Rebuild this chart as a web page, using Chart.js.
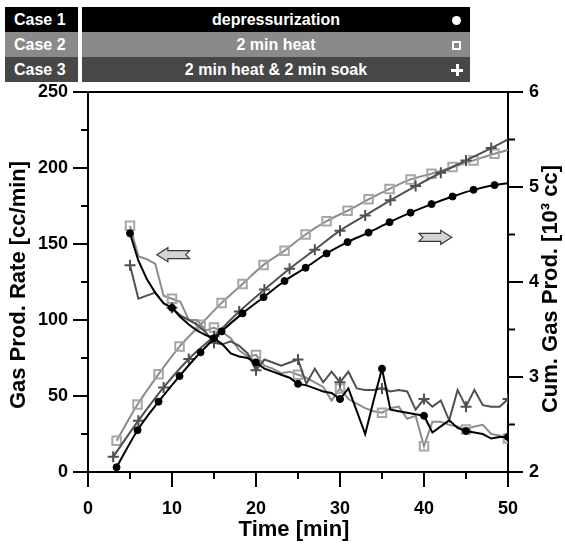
<!DOCTYPE html>
<html>
<head>
<meta charset="utf-8">
<script src="https://cdn.jsdelivr.net/npm/chart.js@4/dist/chart.umd.min.js"></script>
<style>
  body { margin: 0; background: #fff; font-family: 'Liberation Sans', Arial, sans-serif; }
  #wrap { position: relative; width: 565px; height: 544px; }
  #legend { position: absolute; left: 5px; top: 7px; width: 465px; }
  .row { display: flex; height: 25px; line-height: 25px; color: #fff; font-weight: bold; font-size: 16px; }
  .name { width: 73px; padding-left: 9px; box-sizing: border-box; }
  .note { margin-left: 4px; flex: 1; text-align: center; position: relative; }
  .r0 > div { background: #000; }
  .r1 > div { background: #8a8a8a; }
  .r2 > div { background: #474747; }
  .sym { position: absolute; top: 50%; }
  .sym.dot { right: 9px; width: 9px; height: 9px; margin-top: -4px; border-radius: 50%; background: #fff; }
  .sym.box { right: 9px; width: 5px; height: 5px; margin-top: -4px; border: 2px solid #fff; }
  .sym.plus { right: 7px; width: 12px; height: 12px; margin-top: -6px; }
  .sym.plus::before, .sym.plus::after { content: ''; position: absolute; background: #fff; }
  .sym.plus::before { left: 0; top: 5px; width: 12px; height: 3px; }
  .sym.plus::after { left: 5px; top: 0; width: 3px; height: 12px; }
  canvas { position: absolute; left: 0; top: 0; }
</style>
</head>
<body>
<div id="wrap">
  <canvas id="chart" width="565" height="544"></canvas>
  <div id="legend"></div>
</div>
<script>
// rate data, one point per minute
const rateTime = [5, 6, 7, 8, 9, 10, 11, 12, 13, 14, 15, 16, 17, 18, 19, 20, 21, 22, 23, 24, 25, 26, 27, 28, 29,
  30, 31, 32, 33, 34, 35, 36, 37, 38, 39, 40, 41, 42, 43, 44, 45, 46, 47, 48, 49, 50];
const rate1 = [157, 139, 127, 118, 111, 108, 102, 97, 93, 90, 88, 84, 78, 76, 75, 72, 68, 66, 64, 62, 58, 57, 55, 53, 52,
  48, 55, 40, 25, 47, 68, 41, 40, 39, 38, 37, 26, 30, 34, 29, 27, 26, 25, 22, 23, 23];
const rate2 = [162, 142, 140, 137, 116, 114, 112, 100, 100, 93, 95, 92, 88, 80, 76, 77, 70, 68, 65, 66, 64, 62, 59, 56, 47,
  55, 48, 45, 42, 40, 39, 42, 43, 35, 37, 17, 33, 33, 31, 30, 28, 30, 31, 25, 24, 22];
const rate3 = [136, 114, 116, 118, 111, 108, 103, 100, 97, 92, 85, 84, 86, 83, 78, 67, 74, 72, 70, 72, 74, 58, 68, 59, 66,
  59, 66, 55, 54, 54, 55, 53, 54, 53, 41, 48, 43, 47, 34, 54, 43, 54, 44, 43, 43, 48];

// cumulative production [10^3 cc]
const cumTime12 = [3.4, 5.9, 8.4, 10.9, 13.4, 15.9, 18.4, 20.9, 23.4, 25.9, 28.4, 30.9, 33.4, 35.9, 38.4, 40.9, 43.4, 45.9, 48.4, 50];
const cum1 = [2.05, 2.44, 2.74, 3.01, 3.26, 3.48, 3.67, 3.84, 4.01, 4.15, 4.30, 4.42, 4.52, 4.63, 4.73, 4.82, 4.90, 4.97, 5.02, 5.04];
const cum2 = [2.33, 2.71, 3.03, 3.32, 3.55, 3.78, 3.98, 4.18, 4.33, 4.50, 4.64, 4.75, 4.87, 4.98, 5.08, 5.14, 5.21, 5.28, 5.35, 5.39];
const cumTime3 = [3, 6, 9, 12, 15, 18, 21, 24, 27, 30, 33, 36, 39, 42, 45, 48, 50];
const cum3 = [2.16, 2.54, 2.89, 3.19, 3.43, 3.69, 3.92, 4.14, 4.34, 4.54, 4.70, 4.86, 5.01, 5.15, 5.28, 5.41, 5.50];

const timeTicks = [0, 5, 10, 15, 20, 25, 30, 35, 40, 45, 50];
const rateTicks = [0, 25, 50, 75, 100, 125, 150, 175, 200, 225, 250];
const cumTicks = [2, 2.5, 3, 3.5, 4, 4.5, 5, 5.5, 6];

const caseLabels = ['Case 1', 'Case 2', 'Case 3'];
const caseNotes = ['depressurization', '2 min heat', '2 min heat & 2 min soak'];
const caseSymbols = ['dot', 'box', 'plus'];

const legend = document.getElementById('legend');
caseLabels.forEach((label, i) => {
  const row = document.createElement('div');
  row.className = 'row r' + i;
  row.innerHTML = `<div class="name">${label}</div><div class="note">${caseNotes[i]}<span class="sym ${caseSymbols[i]}"></span></div>`;
  legend.appendChild(row);
});

const pts = (xs, ys) => xs.map((x, i) => ({ x, y: ys[i] }));
const FONT = "'Liberation Sans', Arial, sans-serif";

const c1 = '#000000', c2 = '#8c8c8c', c3 = '#505050';

function rateSet(data, color, style, r, order, markColor, fill) {
  return {
    data: pts(rateTime, data), yAxisID: 'y', order,
    borderColor: color, borderWidth: 2, tension: 0,
    pointStyle: style, pointBorderColor: markColor || color, pointBackgroundColor: fill || color,
    pointBorderWidth: style === 'circle' ? 1 : 2,
    pointRadius: ctx => (ctx.raw && ctx.raw.x % 5 === 0) ? r : 0
  };
}
function cumSet(xs, data, color, style, r, order, markColor, fill) {
  return {
    data: pts(xs, data), yAxisID: 'y1', order,
    borderColor: color, borderWidth: 2, cubicInterpolationMode: 'monotone',
    pointStyle: style, pointBorderColor: markColor || color, pointBackgroundColor: fill || color,
    pointBorderWidth: style === 'circle' ? 1 : 2,
    pointRadius: ctx => ctx.dataIndex === data.length - 1 ? 0 : r
  };
}

const datasets = [
  rateSet(rate1, c1, 'circle', 3.5, 0),
  rateSet(rate3, c3, 'cross', 5.5, 1),
  rateSet(rate2, c2, 'rect', 6, 2, '#a6a6a6', 'rgba(255,255,255,0)'),
  cumSet(cumTime12, cum1, c1, 'circle', 3.5, 0),
  cumSet(cumTime3, cum3, c3, 'cross', 5.5, 1),
  cumSet(cumTime12, cum2, c2, 'rect', 6, 2, '#a6a6a6', 'rgba(255,255,255,0)')
];

function arrow(ctx, xTip, xTail, y) {
  const dir = xTail > xTip ? 1 : -1;
  const h = 11 * dir, n = 4 * dir;
  ctx.beginPath();
  ctx.moveTo(xTip, y);
  ctx.lineTo(xTip + h, y - 7);
  ctx.lineTo(xTip + h, y - 4);
  ctx.lineTo(xTail, y - 4);
  ctx.lineTo(xTail - n, y);
  ctx.lineTo(xTail, y + 4);
  ctx.lineTo(xTip + h, y + 4);
  ctx.lineTo(xTip + h, y + 7);
  ctx.closePath();
  ctx.fillStyle = '#d4d4d4';
  ctx.fill();
  ctx.strokeStyle = '#3a3a3a';
  ctx.lineWidth = 1.2;
  ctx.stroke();
}

const frame = {
  id: 'frame',
  afterDraw(chart) {
    const { ctx, chartArea: a, scales } = chart;
    const sx = scales.x, sy = scales.y, sy1 = scales.y1;
    ctx.save();
    ctx.strokeStyle = '#000';
    ctx.lineWidth = 2;
    ctx.beginPath();
    ctx.moveTo(a.left, a.top);
    ctx.lineTo(a.right, a.top);
    timeTicks.forEach(v => {
      const x = sx.getPixelForValue(v);
      ctx.moveTo(x, a.bottom);
      ctx.lineTo(x, a.bottom + (v % 10 === 0 ? 15 : 7));
    });
    rateTicks.forEach(v => {
      const y = sy.getPixelForValue(v);
      ctx.moveTo(a.left, y);
      ctx.lineTo(a.left - (v % 50 === 0 ? 15 : 7), y);
    });
    cumTicks.forEach(v => {
      const y = sy1.getPixelForValue(v);
      ctx.moveTo(a.right, y);
      ctx.lineTo(a.right + (Number.isInteger(v) ? 15 : 7), y);
    });
    ctx.stroke();

    // direction arrows
    arrow(ctx, sx.getPixelForValue(8.2), sx.getPixelForValue(12.1), sy.getPixelForValue(143));
    arrow(ctx, sx.getPixelForValue(43.3), sx.getPixelForValue(39.4), sy1.getPixelForValue(4.47));

    // axis titles
    ctx.fillStyle = '#000';
    ctx.font = 'bold 22px ' + FONT;
    ctx.textAlign = 'center';
    ctx.textBaseline = 'middle';
    ctx.fillText('Time [min]', 294, 530);
    ctx.translate(19, 285);
    ctx.rotate(-Math.PI / 2);
    ctx.fillText('Gas Prod. Rate [cc/min]', 0, 0);
    ctx.rotate(Math.PI / 2);
    ctx.translate(532, 4);
    ctx.rotate(-Math.PI / 2);
    ctx.fillText('Cum. Gas Prod. [10\u00b3 cc]', 0, 0);
    ctx.restore();
  }
};

const tickFont = { family: FONT, size: 18, weight: 'bold' };

new Chart(document.getElementById('chart'), {
  type: 'line',
  data: { datasets },
  options: {
    responsive: false,
    animation: false,
    layout: { padding: { top: 92, left: 0, right: 0, bottom: 0 } },
    plugins: { legend: { display: false }, tooltip: { enabled: false } },
    scales: {
      x: {
        type: 'linear', min: 0, max: 50,
        afterFit: s => { s.height = 72; },
        grid: { display: false, drawTicks: false },
        border: { display: true, color: '#000', width: 2 },
        ticks: { stepSize: 10, padding: 26, color: '#000', font: tickFont }
      },
      y: {
        position: 'left', min: 0, max: 250,
        afterFit: s => { s.width = 88; },
        grid: { display: false, drawTicks: false },
        border: { display: true, color: '#000', width: 2 },
        ticks: { stepSize: 50, padding: 20, color: '#000', font: tickFont }
      },
      y1: {
        position: 'right', min: 2, max: 6,
        afterFit: s => { s.width = 57; },
        grid: { display: false, drawTicks: false },
        border: { display: true, color: '#000', width: 2 },
        ticks: { stepSize: 1, padding: 21, color: '#000', font: tickFont }
      }
    }
  },
  plugins: [frame]
});
</script>
</body>
</html>
